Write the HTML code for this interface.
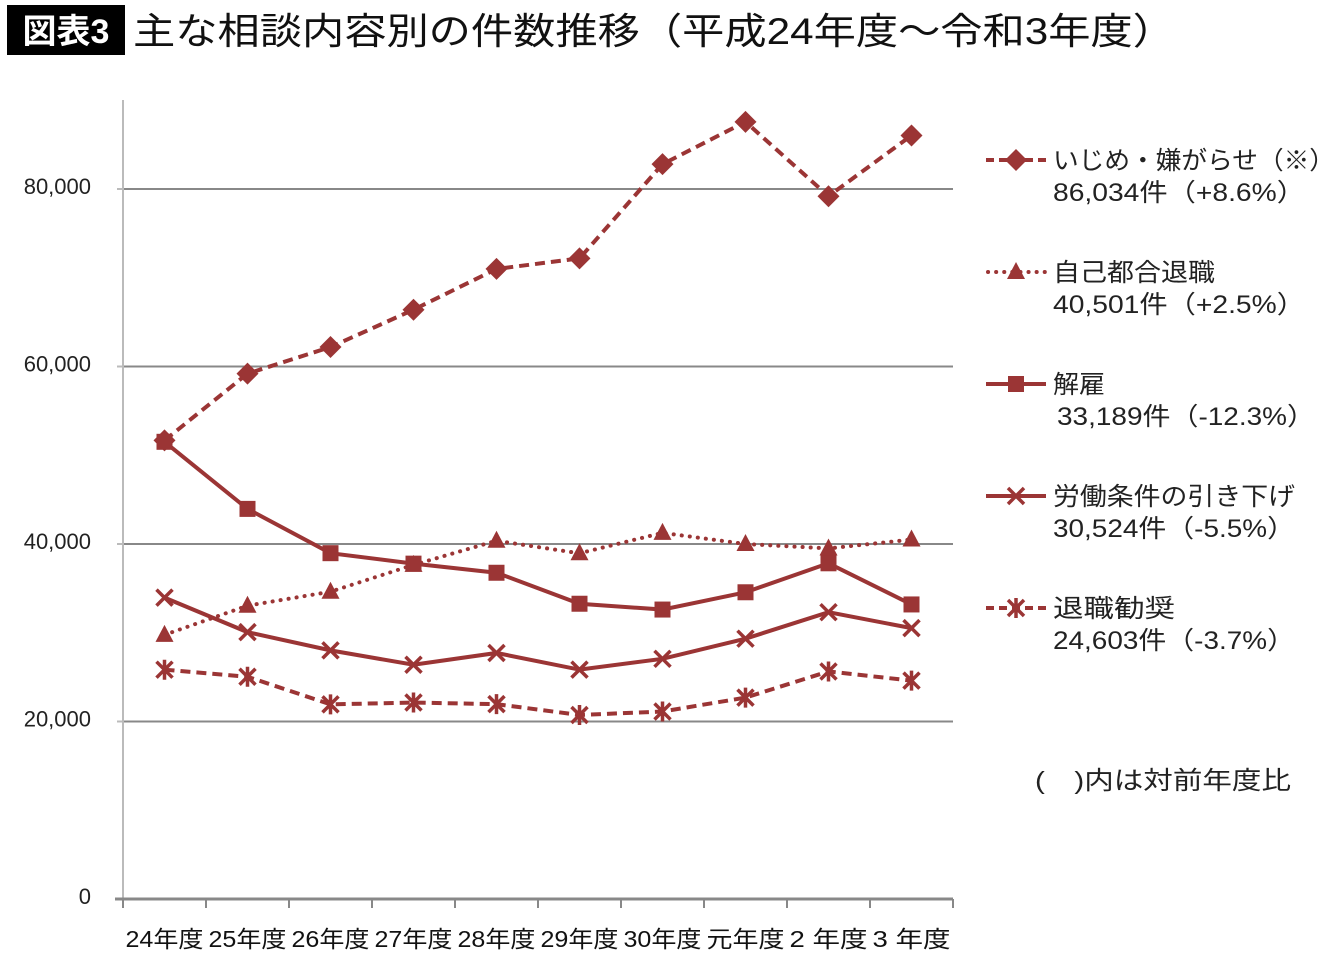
<!DOCTYPE html>
<html><head><meta charset="utf-8">
<style>
html,body{margin:0;padding:0;background:#fff;}
svg{display:block;font-family:"Liberation Sans","Noto Sans CJK JP",sans-serif;}
</style></head>
<body>
<svg id="chart" width="1340" height="961" viewBox="0 0 1340 961">
<rect x="7" y="5" width="118" height="50" fill="#000"/>
<text x="66" y="43" fill="#fff" font-size="34" text-anchor="middle" font-weight="bold">図表3</text>
<text x="133" y="44" fill="#111" font-size="37" textLength="1042" lengthAdjust="spacingAndGlyphs">主な相談内容別の件数推移（平成24年度〜令和3年度）</text>
<g id="grid"></g>
<g id="axes"></g>
<g id="series"></g>
<g id="legend"></g>
<text x="1035" y="789" fill="#222" font-size="25" textLength="256" lengthAdjust="spacingAndGlyphs">(　)内は対前年度比</text>
</svg>
<script>
const categories = ["24年度","25年度","26年度","27年度","28年度","29年度","30年度","元年度","2 年度","3 年度"];
const yTicks = [0,20000,40000,60000,80000];
const yTickLabels = ["0","20,000","40,000","60,000","80,000"];
const ijime = [51670,59197,62191,66399,70993,72179,82797,87570,79190,86034];
const jiko = [29763,33049,34626,37648,40364,38954,41258,40000,39500,40501];
const kaiko = [51515,43956,38966,37787,36760,33269,32614,34561,37826,33189];
const roudou = [33955,30067,28015,26392,27723,25841,27063,29332,32318,30524];
const kanshou = [25838,25041,21928,22138,21953,20736,21125,22692,25639,24603];
const seriesNames = ["いじめ・嫌がらせ（※）","自己都合退職","解雇","労働条件の引き下げ","退職勧奨"];
const seriesNotes = ["86,034件（+8.6%）","40,501件（+2.5%）","33,189件（-12.3%）","30,524件（-5.5%）","24,603件（-3.7%）"];

const NS="http://www.w3.org/2000/svg";
const C="#9b3535";
const X0=123,X1=953,Y0=899,YPER=177.5/20000;
const bw=(X1-X0)/categories.length;
const xs=i=>X0+bw*(i+0.5);
const ys=v=>Y0-v*YPER;
const nameW=[282,162,52,242,122];
const noteW=[252,252,258,242,242];
const noteX=[1053,1053,1057,1053,1053];
function mk(tag,attrs,parent){const e=document.createElementNS(NS,tag);for(const k in attrs)e.setAttribute(k,attrs[k]);parent.appendChild(e);return e;}
const grid=document.getElementById('grid'),axes=document.getElementById('axes'),ser=document.getElementById('series'),leg=document.getElementById('legend');

yTicks.forEach((t,i)=>{
  if(t>0){const l=mk('line',{x1:X0,x2:X1,y1:ys(t),y2:ys(t),stroke:'#888','stroke-width':2},grid);
    
    }
  const tk=mk('line',{x1:X0-6,x2:X0,y1:ys(t),y2:ys(t),stroke:'#bbb','stroke-width':2},axes);
  
  
  const tx=mk('text',{x:91,y:ys(t)+5,'font-size':22,fill:'#222','text-anchor':'end'},axes);
  tx.textContent=yTickLabels[i];
  
  
});
const ya=mk('line',{x1:X0,x2:X0,y1:100,y2:Y0,stroke:'#bbb','stroke-width':2},axes);


const xa=mk('line',{x1:X0-8,x2:X1,y1:Y0,y2:Y0,stroke:'#888','stroke-width':3},axes);


for(let i=0;i<=categories.length;i++){
  const t=mk('line',{x1:X0+bw*i,x2:X0+bw*i,y1:Y0,y2:Y0+9,stroke:'#888','stroke-width':2},axes);
  
  
}
categories.forEach((c,i)=>{
  const t=mk('text',{x:xs(i),y:947,'font-size':23,fill:'#111','text-anchor':'middle',textLength:78,lengthAdjust:'spacingAndGlyphs'},axes);
  t.textContent=c;
  
  
});

function marker(type,x,y,g){
  let e;
  if(type==='diamond') e=mk('polygon',{points:`${x},${y-11} ${x+11},${y} ${x},${y+11} ${x-11},${y}`,fill:C},g);
  else if(type==='triangle') e=mk('polygon',{points:`${x},${y-10} ${x+9},${y+7} ${x-9},${y+7}`,fill:C},g);
  else if(type==='square') e=mk('rect',{x:x-8,y:y-8,width:16,height:16,fill:C},g);
  else if(type==='x') e=mk('path',{d:`M${x-8},${y-8}L${x+8},${y+8}M${x+8},${y-8}L${x-8},${y+8}`,stroke:C,'stroke-width':3.5,fill:'none'},g);
  else e=mk('path',{d:`M${x-8},${y-8}L${x+8},${y+8}M${x+8},${y-8}L${x-8},${y+8}M${x},${y-10}L${x},${y+10}`,stroke:C,'stroke-width':3.5,fill:'none'},g);
  return e;
}
const defs=[
  {data:ijime,dash:'10,6',m:'diamond',name:'series-ijime'},
  {data:jiko,dash:'0.1,8',m:'triangle',name:'series-jiko-taishoku'},
  {data:kaiko,dash:'',m:'square',name:'series-kaiko'},
  {data:roudou,dash:'',m:'x',name:'series-roudou-jouken'},
  {data:kanshou,dash:'10,6',m:'asterisk',name:'series-taishoku-kanshou'}
];
defs.forEach((s,si)=>{
  const dotted=s.dash==='0.1,8';
  const g=mk('g',{},ser);
  
  
  const p=mk('polyline',{points:s.data.map((v,i)=>xs(i)+','+ys(v)).join(' '),fill:'none',stroke:C,'stroke-width':dotted?4:4,'stroke-dasharray':s.dash,'stroke-linecap':dotted?'round':'butt'},g);
  
  
  s.data.forEach((v,i)=>{
    const m=marker(s.m,xs(i),ys(v),g);
    
    
  });
  const ly=[160,272,384,496,608][si];
  const lg=mk('g',{},leg);
  
  
  const ll=mk('line',{x1:dotted?988:986,x2:1046,y1:ly,y2:ly,stroke:C,'stroke-width':4,'stroke-dasharray':s.dash==='10,6'?'8,5':s.dash,'stroke-linecap':dotted?'round':'butt'},lg);
  
  
  const lm=marker(s.m,1016,ly,lg);
  
  
  const t1=mk('text',{x:1053,y:ly+9,'font-size':25,fill:'#222',textLength:nameW[si],lengthAdjust:'spacingAndGlyphs'},lg);
  t1.textContent=seriesNames[si];
  
  
  const t2=mk('text',{x:noteX[si],y:ly+41,'font-size':25,fill:'#222',textLength:noteW[si],lengthAdjust:'spacingAndGlyphs'},lg);
  t2.textContent=seriesNotes[si];
  
  
});
</script>
</body></html>
